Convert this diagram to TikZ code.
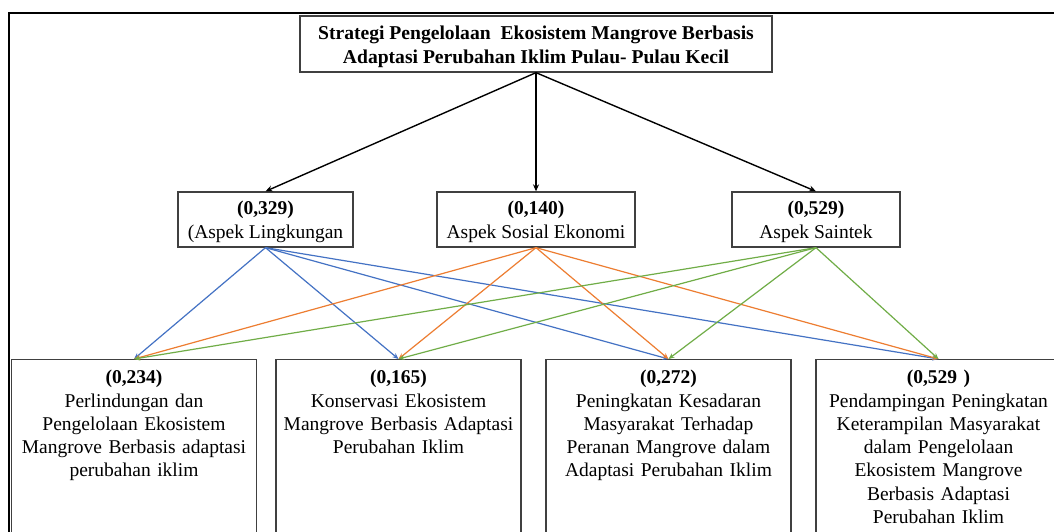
\documentclass[tikz,border=0pt]{standalone}
\usepackage{fontspec}
\setmainfont{Liberation Serif}
\usetikzlibrary{arrows.meta}
\definecolor{cblue}{HTML}{4472C4}
\definecolor{corange}{HTML}{ED7D31}
\definecolor{cgreen}{HTML}{70AD47}
\definecolor{cbox}{HTML}{404040}
\tikzset{
  box/.style={draw=cbox, line width=1.3pt, inner sep=0pt, align=center},
  titlebox/.style={box, minimum width=472pt, minimum height=56pt, font=\fontsize{19.6}{24}\selectfont\bfseries},
  midbox/.style={box, minimum height=55pt, font=\fontsize{19.5}{23.5}\selectfont},
  lowbox/.style={draw=cbox, line width=1.3pt, minimum width=245pt, minimum height=200pt, anchor=north},
  lowtext/.style={anchor=north, align=center, text width=240pt, inner sep=0pt, font=\fontsize{19.5}{23.3}\selectfont},
  blackarrow/.style={line width=1.4pt, -{Stealth[length=7pt,width=6pt]}},
  link/.style={line width=1.2pt, -{Stealth[length=6pt,width=5pt]}},
}
\begin{document}
\begin{tikzpicture}[x=1pt,y=-1pt]
\useasboundingbox (0,0) rectangle (1054,531);
\clip (0,0) rectangle (1054,531);
\fill[white] (0,0) rectangle (1054,531);
\draw[line width=2pt] (8.5,13) rectangle (1075,560);

\node[titlebox] (top) at (536,44) {};
\node[align=center, inner sep=0pt, font=\fontsize{19.6}{24}\selectfont\bfseries] (toptext) at (536,46.5) {Strategi Pengelolaan\ \ Ekosistem Mangrove Berbasis\\Adaptasi Perubahan Iklim Pulau- Pulau Kecil};

\node[midbox, minimum width=175pt] (L) at (265.5,219.5) {};
\node[midbox, minimum width=198pt] (S) at (536,219.5) {};
\node[midbox, minimum width=168pt] (T) at (816,219.5) {};
\node[align=center, inner sep=0pt, font=\fontsize{19.5}{23.5}\selectfont] (Lt) at (265.5,222) {\textbf{(0,329)}\\(Aspek Lingkungan};
\node[align=center, inner sep=0pt, font=\fontsize{19.5}{23.5}\selectfont] (St) at (536,222) {\textbf{(0,140)}\\Aspek Sosial Ekonomi};
\node[align=center, inner sep=0pt, font=\fontsize{19.5}{23.5}\selectfont] (Tt) at (816,222) {\textbf{(0,529)}\\Aspek Saintek};

\node[lowbox] (b1) at (134,359) {};
\node[lowbox] (b2) at (398.5,359) {};
\node[lowbox] (b3) at (668.5,359) {};
\node[lowbox] (b4) at (938.5,359) {};

\node[lowtext] (t1) at ([yshift=-11pt]b1.north) {\textbf{(0,234)}\\Perlindungan dan\\Pengelolaan Ekosistem\\Mangrove Berbasis adaptasi\\perubahan iklim};
\node[lowtext] (t2) at ([yshift=-11pt]b2.north) {\textbf{(0,165)}\\Konservasi Ekosistem\\Mangrove Berbasis Adaptasi\\Perubahan Iklim};
\node[lowtext] (t3) at ([yshift=-11pt]b3.north) {\textbf{(0,272)}\\Peningkatan Kesadaran\\Masyarakat Terhadap\\Peranan Mangrove dalam\\Adaptasi Perubahan Iklim};
\node[lowtext] (t4) at ([yshift=-11pt]b4.north) {\textbf{(0,529 )}\\Pendampingan Peningkatan\\Keterampilan Masyarakat\\dalam Pengelolaan\\Ekosistem Mangrove\\Berbasis Adaptasi\\Perubahan Iklim};

\draw[blackarrow] (top.south) -- (L.north);
\draw[blackarrow] (top.south) -- (S.north);
\draw[blackarrow] (top.south) -- (T.north);

\foreach \b in {b1,b2,b3,b4} {
  \draw[link, cblue] (L.south) -- (\b.north);
}
\foreach \b in {b1,b2,b3,b4} {
  \draw[link, corange] (S.south) -- (\b.north);
}
\foreach \b in {b1,b2,b3,b4} {
  \draw[link, cgreen] (T.south) -- (\b.north);
}
\end{tikzpicture}
\end{document}
